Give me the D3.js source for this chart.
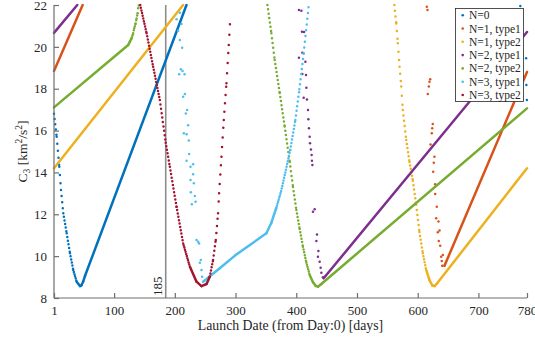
<!DOCTYPE html>
<html><head><meta charset="utf-8">
<script src="https://cdn.jsdelivr.net/npm/d3@7"></script>
<style>
body{margin:0;background:#fff}
text{font-family:"Liberation Serif","Times New Roman",serif;fill:#262626}
</style>
</head><body>
<svg id="c" width="535" height="339"></svg>
<script>
// ---------- data ----------
const xTicks = [1,100,200,300,400,500,600,700,780];
const yTicks = [8,10,12,14,16,18,20,22];
const seriesNames = ["N=0","N=1, type1","N=1, type2","N=2, type1","N=2, type2","N=3, type1","N=3, type2"];
const markDay = 185;

// continuous branches: [day, C3]
const n0Curves = [
  [[1,16.8],[5.4,15.7],[9.7,14.27],[12.5,13.16],[16.3,12.05],[21.9,11.09],[27.3,10.14],[32.7,9.34],[38.3,8.78],[43.8,8.57],[46,8.6],[49,8.78],[52,9.05],[219.2,22]]
];
const n0Dots = [[769,21.95],[778.5,19.45],[779,18.18],[779.8,17.46]];

const n1t1Curves = [
  [[1,18.85],[48.2,22]],
  [[644.1,9.54],[780,18.8]]
];
const n1t1Dots = [[615,21.92],[616.1,21.76],[620.6,18.45],[619.4,18.33],[618.3,18.1],[616.6,17.75],[624.8,16.31],[623.9,16.11],[623.2,15.87],[621.1,15.34],[627.6,14.75],[626.5,14.46],[625.5,14.03],[628.8,13.43],[628.8,12.97],[631.4,12.36],[630.4,11.81],[634.2,11.65],[633.1,11.14],[635.9,11.22],[634.7,10.72],[637,10.5],[638.6,9.97],[641.3,10.05],[639.6,9.77],[640.3,9.54],[644.1,9.54]];

const n1t2Curves = [
  [[1,14.2],[213.6,22]],
  [[561.5,22],[564.7,21.12],[567.3,20.17],[570.1,19.05],[572.9,18.1],[575.5,16.98],[581.1,15.55],[586.5,14.5],[592,13.6],[597.5,12.45],[602.9,11.15],[608.4,10.14],[614,9.34],[619.4,8.85],[624,8.6],[627.6,8.57],[632,8.7],[780,14.2]]
];

const n2t1Curves = [
  [[1,20.67],[39.3,22]],
  [[445.1,8.94],[780,20.71]]
];
const n2t1Dots = [[404.4,21.76],[408.4,21.73],[409.4,20.72],[412.7,20.71],[410,19.72],[404.4,19.48],[415,19.29],[410,18.7],[416,18.65],[416.6,18.05],[412.2,17.57],[417.6,17.49],[419.3,16.98],[419.9,16.54],[420.9,16.11],[422.1,15.71],[422.6,15.39],[424.2,15.1],[425.3,14.83],[425.8,14.56],[426.5,14.35],[430.3,12.24],[427.5,12.12],[434.1,11.04],[433.1,10.72],[436.4,10.25],[435.7,9.97],[438.5,9.73],[440.1,9.45],[441.3,9.21],[443.9,8.99]];

const n2t2Curves = [
  [[1,17.11],[123.2,20.09],[126,20.25],[128.8,20.41],[131.4,20.65],[133.1,20.89],[135.4,21.12],[137,21.36],[138.7,21.6],[139.6,21.84],[140.8,22]],
  [[352.5,22],[359,20.65],[364.5,19.37],[372.7,17.8],[380.9,16.2],[389.2,14.5],[394.6,13.3],[400.2,12.2],[405.6,11.3],[411,10.45],[416.6,9.7],[422.1,9.1],[427.5,8.75],[432,8.58],[435.7,8.54],[441.3,8.67],[780,17.06]]
];

const n3t1Curves = [
  [[246.6,8.78],[274,9.42],[300,10.05],[350.8,11.09],[359,11.6],[367,12.3],[375,13.1],[382,14.0],[390,15.07],[398.5,16.5],[405.1,17.97],[412.2,19.69],[420.4,21.95]]
];
const n3t1Dots = [[208.2,21.63],[202.8,21.32],[211,21.09],[205.4,20.77],[208.2,20.33],[212,19.96],[209.9,18.93],[212.7,18.85],[207.1,18.69],[216,18.69],[216.5,17.75],[213.7,17.62],[220.2,16.98],[218.1,16.82],[221.9,16.25],[214.8,15.87],[219.3,15.82],[223,15.52],[223.5,14.88],[219.3,14.56],[230.1,14.39],[225.8,14.27],[230.1,13.91],[225.8,13.64],[231.3,13.48],[226.3,13.05],[232.9,12.87],[228,12.48],[234.1,12.6],[235.7,10.77],[238.3,10.69],[240,10.61],[242.8,9.82],[241.1,9.69],[243.9,9.34],[244.9,9.02]];

const n3t2Curves = [
  [[143,22],[153.5,20.65],[164.3,19.05],[175.3,17.46],[185,15.42],[191.8,14.27],[202.8,12.36],[213.7,10.61],[224.7,9.5],[235.7,8.78],[243.9,8.57],[252.2,8.67],[257.6,9.02],[263,9.82],[267.4,10.77],[271.2,12.05],[272.9,13.0],[276.8,14.75],[280.6,16.5],[285,18.26],[288.8,20.09],[291.6,21.47]]
];

// ---------- styles ----------
const colors = ["#0072BD","#D95319","#EDB120","#7E2F8E","#77AC30","#4DBEEE","#A2142F"];
const series = [
  {curves:n0Curves, dots:n0Dots},
  {curves:n1t1Curves, dots:n1t1Dots},
  {curves:n1t2Curves, dots:[]},
  {curves:n2t1Curves, dots:n2t1Dots},
  {curves:n2t2Curves, dots:[]},
  {curves:n3t1Curves, dots:n3t1Dots},
  {curves:n3t2Curves, dots:[]}
];

const svg = d3.select("#c");
const L = 54, R = 527, T = 5, B = 298;
const x = d3.scaleLinear().domain([1,780]).range([L,R]);
const y = d3.scaleLinear().domain([8,22]).range([B,T]);
const axisCol = "#6e6e6e";

svg.append("defs").append("clipPath").attr("id","clip")
  .append("rect").attr("x",51).attr("y",3.6).attr("width",482).attr("height",297);

// vertical marker line
svg.append("line").attr("x1",x(markDay)).attr("x2",x(markDay)).attr("y1",T).attr("y2",B)
  .attr("stroke","#8c8c8c").attr("stroke-width",1.6);
svg.append("text").attr("transform",`translate(${x(markDay)-4},${B-2}) rotate(-90)`)
  .attr("font-size",13).text(markDay);

const plot = svg.append("g").attr("clip-path","url(#clip)");
const DW = 2.5;
function drawCurve(g, pts, col){
  for(let i=0;i<pts.length-1;i++){
    const [d0,c0]=pts[i],[d1,c1]=pts[i+1];
    const x0=x(d0),y0=y(c0),x1=x(d1),y1=y(c1);
    const len=Math.hypot(x1-x0,y1-y0);
    const s=len/Math.max(d1-d0,0.01);
    const ln=g.append("line").attr("x1",x0).attr("y1",y0).attr("x2",x1).attr("y2",y1)
      .attr("stroke",col).attr("stroke-width",DW).attr("stroke-linecap","round");
    if(s>2.0) ln.attr("stroke-dasharray",`0 ${s.toFixed(2)}`);
  }
}
series.forEach((s,i)=>{
  const g=plot.append("g");
  s.curves.forEach(b=>drawCurve(g,b,colors[i]));
  g.selectAll("circle").data(s.dots).join("circle")
    .attr("cx",d=>x(d[0])).attr("cy",d=>y(d[1])).attr("r",DW/2).attr("fill",colors[i]);
});

// axes
const xAxis = d3.axisBottom(x).tickValues(xTicks).tickSize(-5).tickPadding(8).tickFormat(d3.format("d"));
const gx = svg.append("g").attr("transform",`translate(0,${B})`).call(xAxis);
const yAxis = d3.axisLeft(y).tickValues(yTicks).tickSize(-5).tickPadding(7);
const gy = svg.append("g").attr("transform",`translate(${L},0)`).call(yAxis);
[gx,gy].forEach(g=>{
  g.select(".domain").attr("stroke",axisCol).attr("stroke-width",1.2);
  g.selectAll(".tick line").attr("stroke",axisCol).attr("stroke-width",1.2);
  g.selectAll(".tick text").attr("font-family","Liberation Serif, serif").attr("font-size",13).attr("fill","#262626");
});
gx.select(".domain").attr("d",`M${L},0H${R}`);
gy.select(".domain").attr("d",`M0,${B}V${T}`);

// axis titles
svg.append("text").attr("x",(L+R)/2).attr("y",330).attr("text-anchor","middle")
  .attr("font-size",13.8).text("Launch Date (from Day:0) [days]");
const yl = svg.append("text").attr("transform",`translate(27,${(T+B)/2}) rotate(-90)`)
  .attr("text-anchor","middle").attr("font-size",13.5);
yl.append("tspan").text("C");
yl.append("tspan").attr("font-size",9.5).attr("dy",3).text("3");
yl.append("tspan").attr("dy",-3).text(" [km");
yl.append("tspan").attr("font-size",9.5).attr("dy",-5).text("2");
yl.append("tspan").attr("dy",5).text("/s");
yl.append("tspan").attr("font-size",9.5).attr("dy",-5).text("2");
yl.append("tspan").attr("dy",5).text("]");

// legend
const lg = svg.append("g");
lg.append("rect").attr("x",455.5).attr("y",8.5).attr("width",68).attr("height",93)
  .attr("fill","#fff").attr("stroke","#262626").attr("stroke-width",0.8);
seriesNames.forEach((n,i)=>{
  const cy = 15.2 + i*13.3;
  lg.append("circle").attr("cx",462.7).attr("cy",cy).attr("r",1.3).attr("fill",colors[i]);
  lg.append("text").attr("x",469).attr("y",cy).attr("dy","0.35em").attr("font-size",11.5).text(n);
});
</script>
</body></html>
